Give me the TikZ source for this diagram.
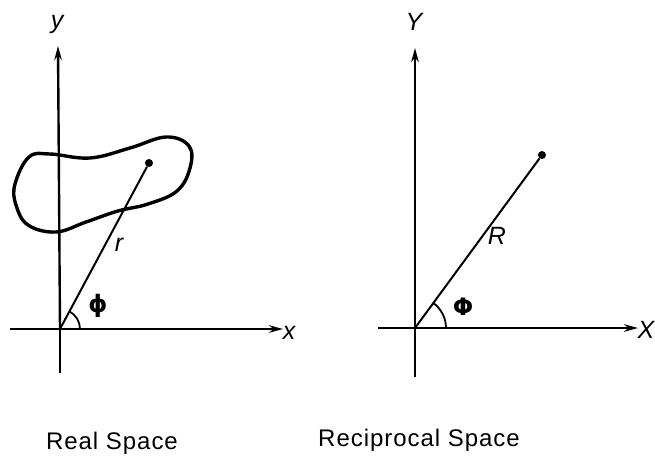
\documentclass[tikz,border=0pt]{standalone}
\usepackage{fontspec}
\setmainfont{Liberation Sans}
\newfontfamily\dvsans{DejaVu Sans}
\usetikzlibrary{arrows.meta}
\begin{document}
\begin{tikzpicture}[x=1pt,y=-1pt,
  axis/.style={line width=2.4pt,-{Stealth[length=14pt,width=7.5pt]}},
  plain/.style={line width=2.4pt},
  vec/.style={line width=2pt},
  blob/.style={line width=3.4pt},
  tip/.style={circle,fill,inner sep=0pt,minimum size=8pt},
  lbl/.style={font=\fontsize{25}{25}\selectfont\itshape},
  glbl/.style={font=\fontsize{24}{24}\selectfont\dvsans\bfseries},
  caption/.style={font=\fontsize{24}{24}\selectfont\addfontfeatures{LetterSpace=4}}]
\useasboundingbox (0,0) rectangle (655,458);
% ---- Real space ----
\coordinate (O1) at (60,329);
\coordinate (L1) at (10,329);
\coordinate (X1) at (283,329);
\coordinate (B1) at (60,373);
\coordinate (Y1) at (58,46);
\node[tip] (P1) at (149,163) {};
\draw[plain] (B1) -- (O1);
\draw[axis] (O1) -- (Y1);
\draw[plain] (L1) -- (O1);
\draw[axis] (O1) -- (X1);
\draw[vec] (O1) -- (P1);
\draw[line width=1.8pt] ([xshift=20pt]O1) arc[start angle=0,end angle=62,radius=20pt];
\draw[blob] plot[smooth cycle,tension=0.65] coordinates {(15,184) (29,157) (50,154) (90,158) (130,148) (166,137) (189,146) (190,168) (177,191) (148,204) (118,211) (86,222) (56,232) (28,225) (16,205)};
\node[lbl] (ly) at (57,24) {y};
\node[lbl] (lx) at (289,333) {x};
\node[lbl] (lr) at (119,245) {r};
\node[glbl] (lphi) at (98,306) {ϕ};
\node[caption] (c1) at (112,443) {Real Space};
% ---- Reciprocal space ----
\coordinate (O2) at (415,328);
\coordinate (L2) at (378,328);
\coordinate (X2) at (638,328);
\coordinate (B2) at (415,377);
\coordinate (Y2) at (415,48);
\node[tip] (P2) at (542,155) {};
\draw[plain] (B2) -- (O2);
\draw[axis] (O2) -- (Y2);
\draw[plain] (L2) -- (O2);
\draw[axis] (O2) -- (X2);
\draw[vec] (O2) -- (P2);
\draw[line width=1.8pt] ([xshift=31pt]O2) arc[start angle=0,end angle=54,radius=31pt];
\node[lbl] (lY) at (414,22) {Y};
\node[lbl] (lX) at (646,330) {X};
\node[lbl] (lR) at (497,236) {R};
\node[glbl] (lPhi) at (463,307) {Φ};
\node[caption] (c2) at (419,440) {Reciprocal Space};
\end{tikzpicture}
\end{document}
